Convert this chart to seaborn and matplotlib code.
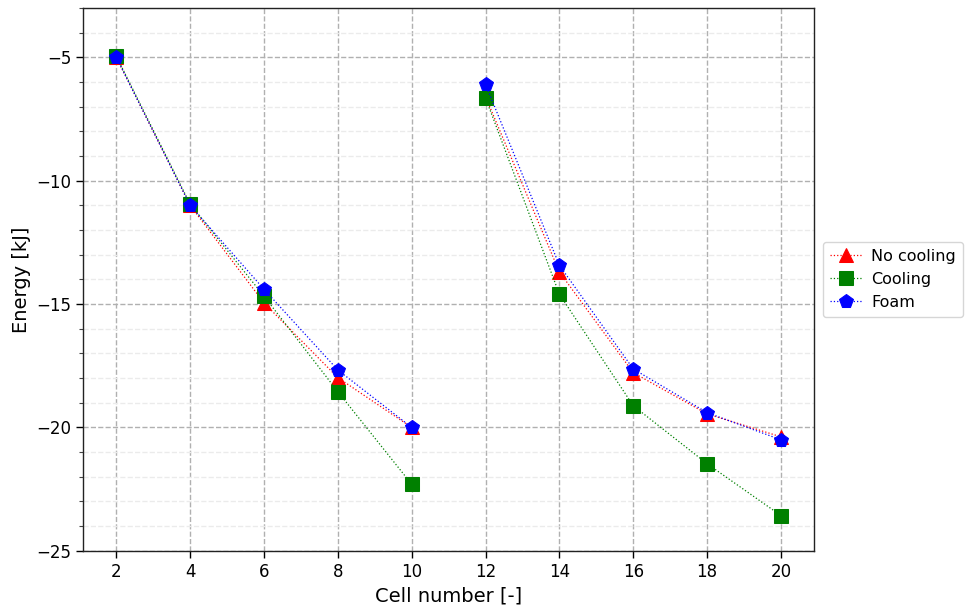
import matplotlib
matplotlib.use("Agg")
import matplotlib.pyplot as plt
from matplotlib.ticker import MultipleLocator
import seaborn as sns
import pandas as pd

cells = [2, 4, 6, 8, 10, 12, 14, 16, 18, 20]
segments = [0, 0, 0, 0, 0, 1, 1, 1, 1, 1]
no_cooling = [-5.0, -11.0, -14.95, -17.98, -20.0, -6.6, -13.7, -17.78, -19.45, -20.38]
cooling = [-4.95, -10.95, -14.68, -18.55, -22.3, -6.65, -14.6, -19.12, -21.47, -23.57]
foam = [-5.0, -11.0, -14.4, -17.67, -20.0, -6.1, -13.43, -17.63, -19.4, -20.5]
series_names = ["No cooling", "Cooling", "Foam"]

colors = ["red", "green", "blue"]
markers = ["^", "s", "p"]

sns.set_theme(style="white")
plt.rcParams['font.family'] = ['DejaVu Sans']
plt.rcParams['text.color'] = 'black'
plt.rcParams['axes.labelcolor'] = 'black'

fig = plt.figure(figsize=(9.71, 6.08), dpi=100)
ax = fig.add_axes([0.0855, 0.094, 0.753, 0.893])

handles = []
for name, vals, c, m in zip(series_names, [no_cooling, cooling, foam], colors, markers):
    df = pd.DataFrame({"cell": cells, "energy": vals, "seg": segments})
    sns.lineplot(data=df, x="cell", y="energy", units="seg", estimator=None,
                 color=c, marker=m, markersize=10, markeredgecolor=c,
                 linestyle=":", linewidth=0.9, ax=ax, legend=False)
    handles.append(ax.lines[-1])

ax.set_xlim(1.1, 20.9)
ax.set_ylim(-25, -3)
ax.set_xticks(cells)
ax.yaxis.set_major_locator(MultipleLocator(5))
ax.yaxis.set_minor_locator(MultipleLocator(1))
ax.tick_params(axis="both", which="major", labelsize=12, length=5, width=1, direction="out",
               left=True, bottom=True, colors="black")
ax.tick_params(axis="y", which="minor", length=3, width=0.8, left=True, color="#444444")
ax.grid(True, which="major", linestyle="--", color="#b0b0b0", linewidth=1.0)
ax.grid(True, which="minor", axis="y", linestyle="--", color="#ebebeb", linewidth=1.0)
for s in ax.spines.values():
    s.set_color("#222222")
    s.set_linewidth(1.0)

ax.set_xlabel("Cell number [-]", fontsize=14)
ax.set_ylabel("Energy [kJ]", fontsize=14)

ax.legend(handles, series_names, loc="center left", bbox_to_anchor=(1.005, 0.5),
          fontsize=11.5, frameon=True, edgecolor="#cccccc", handletextpad=0.6,
          borderpad=0.45, borderaxespad=0.3)

fig.savefig("out.png", dpi=100)
